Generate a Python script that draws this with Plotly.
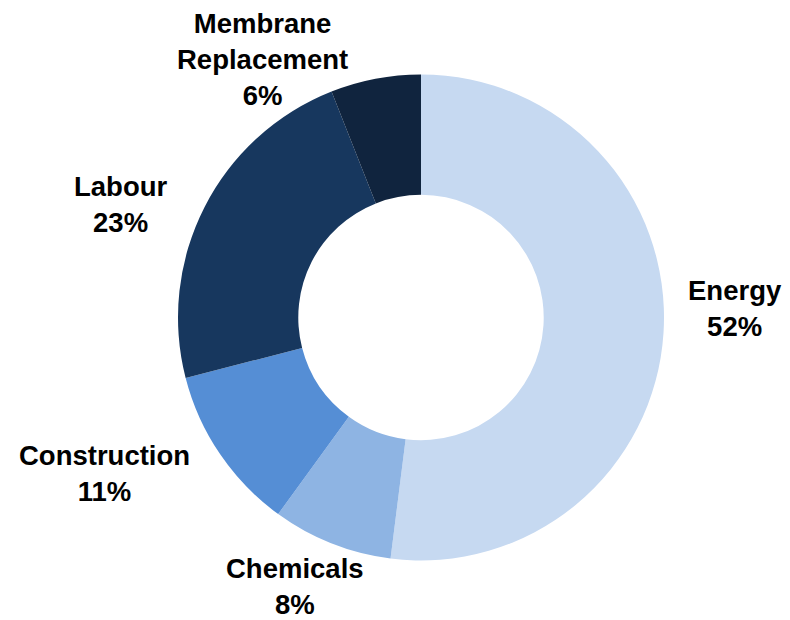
import plotly.graph_objects as go

categories = ["Energy", "Chemicals", "Construction", "Labour", "Membrane<br>Replacement"]
values = [52, 8, 11, 23, 6]
colors = ["#C6D9F1", "#8EB4E3", "#558ED5", "#17375E", "#10243E"]

# label centre positions in pixels (x, y from top)
label_px = [(735, 308), (295, 586), (105, 473), (120, 205), (262, 59)]

W, H = 790, 620
cx, cy, r = 421, 317.5, 243

fig = go.Figure(go.Pie(
    labels=categories,
    values=values,
    marker=dict(colors=colors, line=dict(width=0)),
    hole=0.505,
    sort=False,
    direction="clockwise",
    rotation=0,
    textinfo="none",
    hoverinfo="label+percent",
    domain=dict(x=[(cx - r) / W, (cx + r) / W],
                y=[(H - cy - r) / H, (H - cy + r) / H]),
    showlegend=False,
))

annotations = []
for cat, v, (px, py) in zip(categories, values, label_px):
    annotations.append(dict(
        x=px / W, y=1 - py / H, xref="paper", yref="paper",
        text=f"<b>{cat}<br>{v}%</b>", showarrow=False,
        xanchor="center", yanchor="middle", align="center",
        font=dict(family="Liberation Sans, Arial, sans-serif", size=27.5, color="black"),
    ))

fig.update_layout(
    width=W, height=H,
    margin=dict(l=0, r=0, t=0, b=0),
    paper_bgcolor="white", plot_bgcolor="white",
    annotations=annotations,
)
fig.write_html("out.html")
